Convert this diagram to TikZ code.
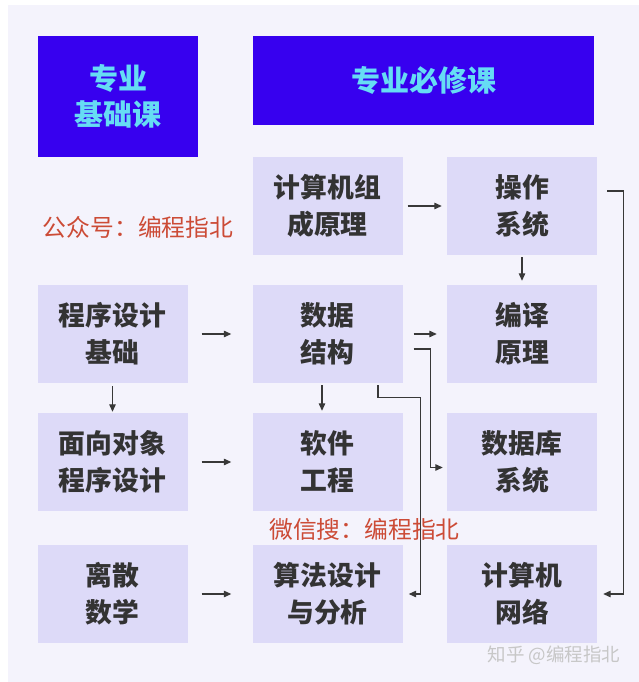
\documentclass[tikz,border=0pt]{standalone}
\usepackage{fontspec}
\usetikzlibrary{arrows.meta}
\newfontfamily\cjk{Noto Sans CJK SC}
\definecolor{panelbg}{HTML}{F4F3FC}
\definecolor{headfill}{HTML}{3700EF}
\definecolor{headtext}{HTML}{66DCF4}
\definecolor{boxfill}{HTML}{DDDAF8}
\definecolor{linkgray}{HTML}{383838}
\definecolor{tagred}{HTML}{CC4B36}
\tikzset{
  course/.style={fill=boxfill, minimum width=150pt, minimum height=98pt, inner sep=0pt,
    align=center, text=black!80, font=\cjk\bfseries\fontsize{26.8}{37}\selectfont},
  head/.style={fill=headfill, inner sep=0pt, align=center, text=headtext,
    font=\cjk\bfseries\fontsize{29}{36}\selectfont},
  link/.style={draw=linkgray, line width=1.2pt, -{Triangle[length=7.5pt,width=6.5pt]}},
  redtag/.style={text=tagred, inner sep=0pt, font=\cjk\fontsize{23.8}{28}\selectfont},
  graytag/.style={text=black!22, inner sep=0pt, font=\cjk\fontsize{18.5}{22}\selectfont}
}
\begin{document}
\begin{tikzpicture}[x=1pt, y=-1pt, node distance=128pt]
    \useasboundingbox (0,0) rectangle (639,682);
    \fill[white] (0,0) rectangle (639,682);
    \fill[panelbg] (8,5) rectangle (639,682);
    % headers
    \node(basic)[head, minimum width=160pt, minimum height=121pt] at (118,96.5) {专业\\基础课};
    \node(core)[head, minimum width=341pt, minimum height=89pt] at (423.5,80.5) {专业必修课};
    % courses
    \node(co)[course] at (327.5,206) {计算机组\\成原理};
    \node(os)[course, right of=co, node distance=194.5pt] {操作\\系统};
    \node(ds)[course, below of=co] {数据\\结构};
    \node(cp)[course, below of=os] {编译\\原理};
    \node(se)[course, below of=ds] {软件\\工程};
    \node(db)[course, below of=cp] {数据库\\系统};
    \node(al)[course, below of=se, node distance=132pt] {算法设计\\与分析};
    \node(net)[course, below of=db, node distance=132pt] {计算机\\网络};
    \node(pf)[course, left of=ds, node distance=215pt] {程序设计\\基础};
    \node(oop)[course, left of=se, node distance=215pt] {面向对象\\程序设计};
    \node(dm)[course, left of=al, node distance=215pt] {离散\\数学};
    % tags
    \node(gzh)[redtag] at (138,227) {公众号：编程指北};
    \node(wx)[redtag] at (364.5,529) {微信搜：编程指北};
    \node(zh)[graytag] at (554,655) {知乎 @编程指北};
    % links
    \draw[link, shorten <=14pt, shorten >=21pt] (pf) -- (ds);
    \draw[link, shorten <=14pt, shorten >=21pt] (oop) -- (se);
    \draw[link, shorten <=14pt, shorten >=21pt] (dm) -- (al);
    \draw[link, shorten <=3pt, shorten >=1pt] (pf) -- (oop);
    \draw[link, shorten <=5pt, shorten >=5pt] (co) -- (os);
    \draw[link, shorten <=2pt, shorten >=4pt] (os) -- (cp);
    \draw[link, shorten <=11pt, shorten >=10pt] (ds) -- (cp);
    \draw[link, shorten <=2pt, shorten >=2pt] ([xshift=-5.5pt]ds.south) -- ([xshift=-5.5pt]se.north);
    \draw[link, shorten <=11pt, shorten >=4pt] ([yshift=-15pt]ds.east) -- ++(28,0) |- ([yshift=-5.5pt]db.west);
    \draw[link, shorten <=2pt, shorten >=6pt] ([xshift=50.5pt]ds.south) -- ++(0,14) -| ([xshift=18pt]al.east) -- (al.east);
    \draw[link, shorten <=10pt, shorten >=6pt] ([yshift=15pt]os.east) -- ++(26,0) |- (net.east);
\end{tikzpicture}
\end{document}
